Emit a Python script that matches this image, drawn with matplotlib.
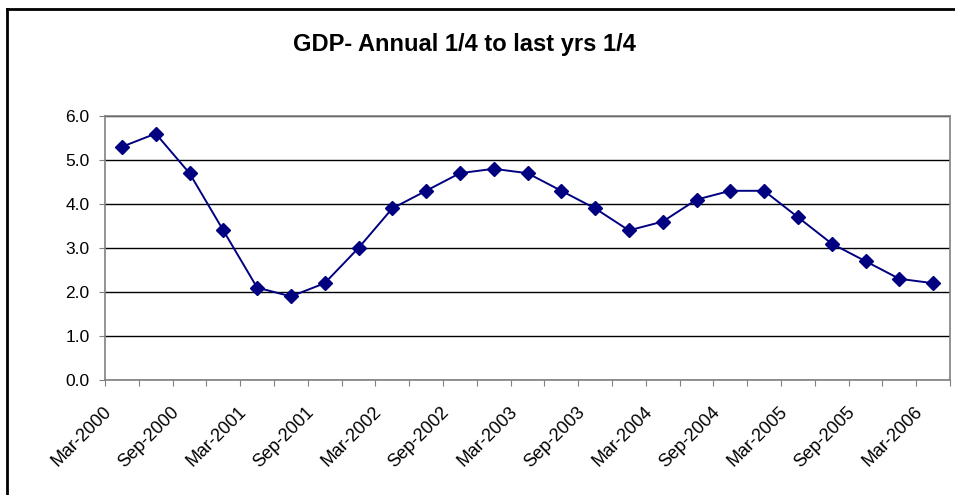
import matplotlib.pyplot as plt
from matplotlib.lines import Line2D
from matplotlib.transforms import ScaledTranslation

plt.rcParams['font.family'] = ['Liberation Sans', 'DejaVu Sans']

# quarterly GDP growth, annual quarter vs same quarter last year
quarters = ['Mar-2000', 'Jun-2000', 'Sep-2000', 'Dec-2000',
            'Mar-2001', 'Jun-2001', 'Sep-2001', 'Dec-2001',
            'Mar-2002', 'Jun-2002', 'Sep-2002', 'Dec-2002',
            'Mar-2003', 'Jun-2003', 'Sep-2003', 'Dec-2003',
            'Mar-2004', 'Jun-2004', 'Sep-2004', 'Dec-2004',
            'Mar-2005', 'Jun-2005', 'Sep-2005', 'Dec-2005',
            'Mar-2006']
gdp = [5.3, 5.6, 4.7, 3.4, 2.1, 1.9, 2.2, 3.0, 3.9, 4.3, 4.7, 4.8,
       4.7, 4.3, 3.9, 3.4, 3.6, 4.1, 4.3, 4.3, 3.7, 3.1, 2.7, 2.3, 2.2]
y_ticks = [0.0, 1.0, 2.0, 3.0, 4.0, 5.0, 6.0]

fig = plt.figure(figsize=(9.55, 4.95), dpi=100)
ax = fig.add_axes([105 / 955, 1 - 380 / 495, 845 / 955, 264 / 495])

x = list(range(len(gdp)))
ax.plot(x, gdp, color='#000080', lw=1.4, marker='D', markersize=7,
        markerfacecolor='#000080', markeredgecolor='#000080', zorder=3)

ax.set_xlim(-0.5, len(gdp) - 0.5)
ax.set_ylim(0, 6)
ax.set_yticks(y_ticks)
ax.set_yticklabels([f'{v:.1f}' for v in y_ticks], fontsize=12.5)
ax.yaxis.grid(True, color='black', lw=1)
ax.set_axisbelow(True)

# tick marks between categories, labels on every second category
ax.set_xticks([i - 0.5 for i in range(len(gdp) + 1)])
ax.set_xticklabels([])
ax.set_xticks(x[::2], minor=True)
ax.set_xticklabels(quarters[::2], minor=True, rotation=45, ha='right',
                   rotation_mode='anchor', fontsize=13)
ax.tick_params(axis='x', which='minor', length=0, pad=17)
ax.tick_params(axis='both', which='major', length=4, color='#808080',
               direction='out')
ax.tick_params(axis='y', pad=7)
shift = ScaledTranslation(-19 / 100, 0, fig.dpi_scale_trans)
for lab in ax.get_xticklabels(minor=True):
    lab.set_transform(lab.get_transform() + shift)

for s in ax.spines.values():
    s.set_color('#808080')
    s.set_linewidth(1.2)

fig.text(464 / 955, 1 - 45 / 495, 'GDP- Annual 1/4 to last yrs 1/4',
         ha='center', va='center', fontsize=17, fontweight='bold')

# outer chart frame (clipped on right and bottom)
fig.add_artist(Line2D([7 / 955, 1], [1 - 9 / 495, 1 - 9 / 495],
                      transform=fig.transFigure, color='black', lw=2))
fig.add_artist(Line2D([7 / 955, 7 / 955], [0, 1 - 9 / 495],
                      transform=fig.transFigure, color='black', lw=2))

fig.savefig('out.png', dpi=100)
